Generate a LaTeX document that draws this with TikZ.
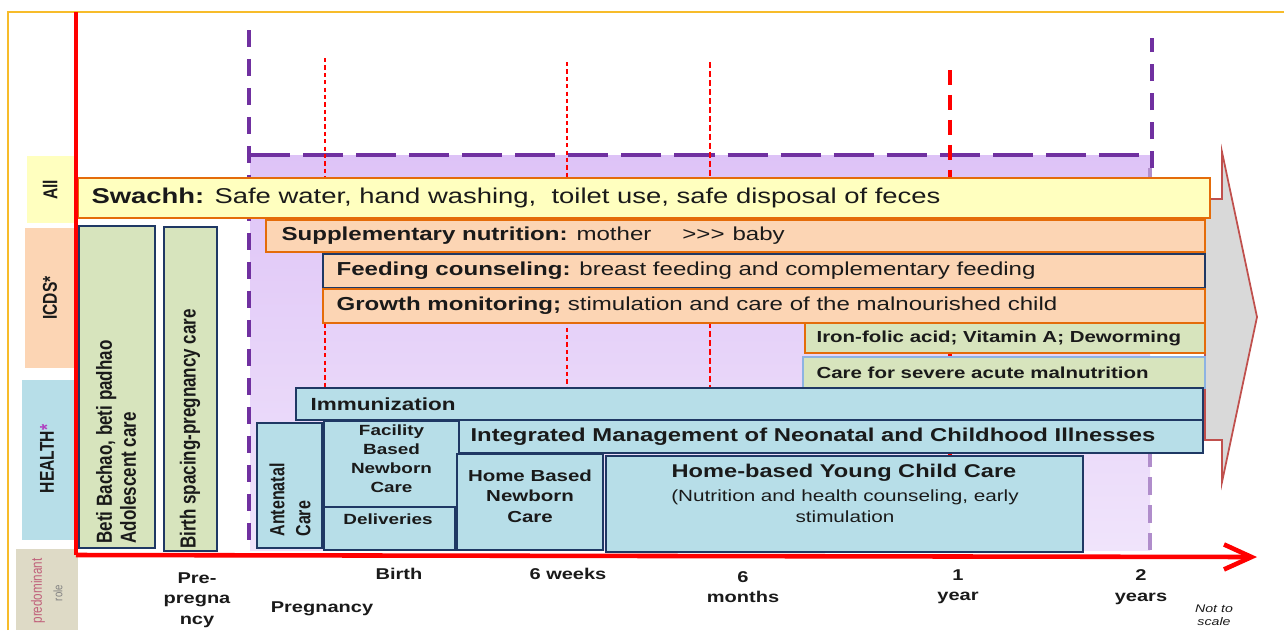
\documentclass[tikz,border=0pt]{standalone}
\usepackage{fontspec}
\setmainfont{Liberation Sans}[FakeStretch=1.28]
\newfontfamily\rotfont{Liberation Sans}[FakeStretch=0.78]
\usetikzlibrary{arrows.meta,fit,positioning}

\definecolor{ink}{HTML}{1A1A1A}
\definecolor{swachhyellow}{HTML}{FFFFBF}
\definecolor{icdspeach}{HTML}{FCD5B4}
\definecolor{healthblue}{HTML}{B7DEE8}
\definecolor{caregreen}{HTML}{D7E4BD}
\definecolor{lavtop}{HTML}{DEC3F7}
\definecolor{lavbottom}{HTML}{F0E4FB}
\definecolor{spanpurple}{HTML}{7030A0}
\definecolor{barorange}{HTML}{E46C0A}
\definecolor{barnavy}{HTML}{1F3864}
\definecolor{lightedge}{HTML}{8DB3E2}
\definecolor{framegold}{HTML}{F7BC2A}
\definecolor{arrowred}{HTML}{C0504D}
\definecolor{arrowgray}{HTML}{D9D9D9}
\definecolor{rolebeige}{HTML}{DEDAC6}
\definecolor{rolepink}{HTML}{C0607A}
\definecolor{starpurple}{HTML}{B040C0}

\begin{document}
\begin{tikzpicture}[x=0.02cm, y=-0.02cm]
	\tikzstyle{Box} = [rectangle, inner sep=0, line width=0.9pt, draw=barnavy, fill=healthblue, align=center, text=ink]
	\tikzstyle{Tag} = [inner sep=0, rotate=90, text=ink, font=\rotfont\bfseries\fontsize{11.4}{13}\selectfont]
	\tikzstyle{Txt} = [inner sep=0, anchor=west, text=ink]
	\tikzstyle{Mark} = [inner sep=0, align=center, text=ink, font=\bfseries\fontsize{8.9}{11.6}\selectfont]
	\tikzstyle{Tick} = [red, line width=1.1pt, dash pattern=on 2.4pt off 1.8pt]
	\tikzstyle{Span} = [spanpurple, line width=2.8pt]

	\clip (0,0) rectangle (1284,630);

	% pregnancy to two years
	\shade[top color=lavtop, bottom color=lavbottom] (250,155) rectangle (1150,550);
	\draw[spanpurple!55, line width=2pt, dash pattern=on 10pt off 6pt] (1150,168) -- (1150,550);
	\draw[Span, dash pattern=on 9.7pt off 6.8pt] (249,30) -- (249,550);
	\draw[Span, dash pattern=on 22.8pt off 7.4pt] (250,155) -- (1152,155);
	\draw[Span, dash pattern=on 9.7pt off 6.8pt] (1152,168) -- (1152,38);

	% time marks
	\draw[Tick] (325,58) -- (325,550);
	\draw[Tick] (567,62) -- (567,550);
	\draw[Tick, line width=0.8pt, dash pattern=on 3.4pt off 1.7pt] (710,62) -- (710,550);
	\draw[red, line width=2.3pt, dash pattern=on 8.5pt off 5.7pt] (950,70) -- (950,550);

	\draw[framegold, line width=0.8pt] (8,630) -- (8,12) -- (1284,12);

	% big arrow on the right
	\filldraw[fill=arrowgray, draw=arrowred, line width=1pt] (1205,199) -- (1222,199) -- (1222,152) -- (1257,317) -- (1222,482) -- (1222,440) -- (1205,440) -- cycle;

	% who does it
	\node (allbox) [Box, draw=none, fill=swachhyellow, fit={(27,156) (78,223)}] {};
	\node (icdsbox) [Box, draw=none, fill=icdspeach, fit={(25,228) (78,368)}] {};
	\node (healthbox) [Box, draw=none, fill=healthblue, fit={(22,380) (78,540)}] {};
	\node (rolebox) [Box, draw=none, fill=rolebeige, fit={(16,549) (78,630)}] {};
	\node (all) [Tag] at (50,190) {All};
	\node (icds) [Tag] at (50,298) {ICDS*};
	\node (health) [Tag] at (47,459) {HEALTH\textcolor{starpurple}{*}};
	\node (rolea) [Tag, text=rolepink, font=\rotfont\fontsize{8.5}{9}\selectfont] at (38,591) {predominant};
	\node (roleb) [Tag, text=gray, font=\rotfont\fontsize{7}{8}\selectfont] at (58,593) {role};

	% pre-pregnancy
	\node (beti) [Box, fill=caregreen, fit={(79,226) (155,548)}] {};
	\node (spacing) [Box, fill=caregreen, fit={(164,227) (217,551)}] {};
	\node (betitxt) [Tag, align=left, font=\rotfont\bfseries\fontsize{12.4}{13.7}\selectfont] at (116,442) {Beti Bachao, beti padhao\\Adolescent care};
	\node (spacingtxt) [Tag, font=\rotfont\bfseries\fontsize{12.4}{13.7}\selectfont] at (190,429) {Birth spacing-pregnancy care};

	% bars
	\node (swachh) [Box, fill=swachhyellow, draw=barorange, fit={(78,178) (1210,218)}] {};
	\node (supp) [Box, fill=icdspeach, draw=barorange, fit={(266,220) (1205,252)}] {};
	\node (feed) [Box, fill=icdspeach, fit={(323,254) (1205,288)}] {};
	\node (growth) [Box, fill=icdspeach, draw=barorange, fit={(323,289) (1205,323)}] {};
	\node (iron) [Box, fill=caregreen, draw=barorange, fit={(805,323) (1205,353)}] {};
	\node (sam) [Box, fill=caregreen, draw=lightedge, fit={(803,357) (1205,388)}] {};
	\node (immun) [Box, fit={(296,388) (1203,420)}] {};
	\node (imnci) [Box, fit={(459,420) (1203,453)}] {};
	\node (anc) [Box, fit={(257,423) (322,548)}] {};
	\node (deliv) [Box, fit={(324,507) (455,550)}] {};
	\node (fbnc) [Box, fit={(324,421) (459,507)}, font=\bfseries\fontsize{8.4}{10.8}\selectfont] {Facility\\Based\\Newborn\\Care};
	\node (hbnc) [Box, fit={(457,454) (603,550)}, font=\bfseries\fontsize{9.1}{11.7}\selectfont] {Home Based\\Newborn\\Care};
	\node (hycc) [Box, fit={(606,456) (1083,552)}] {};

	\node (swachhtxt) [Txt, right=0.28cm of swachh.west, font=\fontsize{12.2}{14}\selectfont] {\textbf{Swachh:} Safe water, hand washing,\ \ toilet use, safe disposal of feces};
	\node (supptxt) [Txt, right=0.32cm of supp.west, font=\fontsize{10.7}{12}\selectfont] {\textbf{Supplementary nutrition:} mother\hspace{0.62cm}>{}>{}>\hspace{0.16cm}baby};
	\node (feedtxt) [Txt, right=0.28cm of feed.west, font=\fontsize{10.7}{12}\selectfont] {\textbf{Feeding counseling:} breast feeding and complementary feeding};
	\node (growthtxt) [Txt, right=0.28cm of growth.west, font=\fontsize{10.7}{12}\selectfont] {\textbf{Growth monitoring;} stimulation and care of the malnourished child};
	\node (irontxt) [Txt, right=0.24cm of iron.west, font=\bfseries\fontsize{9.1}{11}\selectfont] {Iron-folic acid; Vitamin A; Deworming};
	\node (samtxt) [Txt, right=0.28cm of sam.west, font=\bfseries\fontsize{9.1}{11}\selectfont] {Care for severe acute malnutrition};
	\node (immuntxt) [Txt, right=0.3cm of immun.west, font=\bfseries\fontsize{10}{12}\selectfont] {Immunization};
	\node (imncitxt) [Txt, right=0.24cm of imnci.west, font=\bfseries\fontsize{10.6}{12}\selectfont] {Integrated Management of Neonatal and Childhood Illnesses};
	\node (anctxt) [Tag, align=left, font=\rotfont\bfseries\fontsize{11.7}{14.8}\selectfont] at (290,500) {Antenatal\\Care};
	\node (delivtxt) [inner sep=0, text=ink, font=\bfseries\fontsize{8.4}{10}\selectfont] at (388,519) {Deliveries};
	\node (hycctitle) [inner sep=0, text=ink, font=\bfseries\fontsize{10.5}{12}\selectfont] at (844,473) {Home-based Young Child Care};
	\node (hyccnote) [inner sep=0, align=center, text=ink, font=\fontsize{9.2}{11.9}\selectfont] at (845,506) {(Nutrition and health counseling, early\\stimulation};

	% time axis
	\coordinate (axistop) at (76,12);
	\coordinate (origin) at (76,555);
	\coordinate (timeend) at (1257,557);
	\draw[red, line width=2.4pt] (axistop) -- (origin);
	\draw[red, line width=2.6pt, -{Straight Barb[length=0.55cm, width=0.5cm]}] (origin) -- (timeend);

	\node (prepreg) [Mark] at (197,600) {Pre-\\pregna\\ncy};
	\node (birth) [Mark] at (399,574) {Birth};
	\node (sixweeks) [Mark] at (568,574) {6 weeks};
	\node (pregnancy) [Mark] at (322,609) {Pregnancy};
	\node (sixmonths) [Mark] at (743,587) {6\\months};
	\node (oneyear) [Mark] at (958,587) {1\\year};
	\node (twoyears) [Mark] at (1141,587) {2\\years};
	\node (notscale) [Mark, font=\itshape\fontsize{6.3}{7.6}\selectfont] at (1214,615) {Not to\\scale};
\end{tikzpicture}
\end{document}
